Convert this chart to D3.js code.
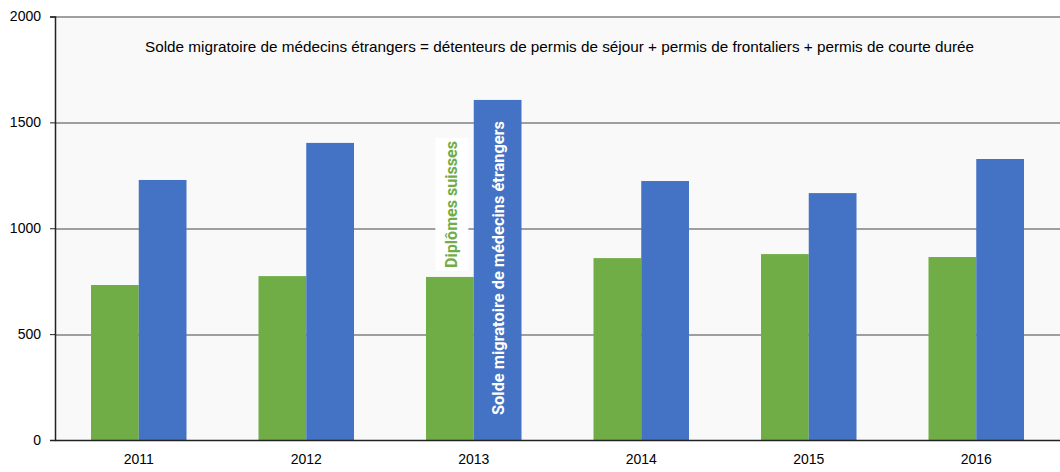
<!DOCTYPE html>
<head>
  <meta charset="utf-8">
  <title>Médecins</title>
  <style>
  body { margin: 0; background: #fff; }
  .axis text { font: 14px "Liberation Sans", Arial, sans-serif; fill: #000; }
  .axis path, .axis line { stroke: #222; }
  .grid line { stroke: #444; stroke-width: 1; }
  </style>
</head>
<svg id="chart"></svg>
<script src="https://cdnjs.cloudflare.com/ajax/libs/d3/7.8.5/d3.min.js"></script>
<script>
"use strict";

var years = ["2011", "2012", "2013", "2014", "2015", "2016"];
var suisses = [732, 774, 770, 859, 878, 864];
var etrangers = [1228, 1403, 1606, 1223, 1166, 1327];
var yTicks = [0, 500, 1000, 1500, 2000];
var seriesNames = ["Diplômes suisses", "Solde migratoire de médecins étrangers"];
var note = "Solde migratoire de médecins étrangers = détenteurs de permis de séjour + permis de frontaliers + permis de courte durée";

var totalWidth = 1060, totalHeight = 472;
var svg = d3.select("#chart").attr("width", totalWidth).attr("height", totalHeight);

var margin = {top: 16.5, right: 0, bottom: 32, left: 55},
  width = totalWidth - margin.left - margin.right,
  height = totalHeight - margin.top - margin.bottom;

var g = svg.append("g").attr("transform", "translate(" + margin.left + "," + margin.top + ")");

var x = d3.scaleBand().domain(years).range([0, width]).paddingInner(0).paddingOuter(0);
var xs = d3.scaleBand().domain([0, 1]).range([36, x.bandwidth() - 36]);
var y = d3.scaleLinear().domain([0, 2000]).range([height, 0]);

// fond
g.append("rect").attr("width", width).attr("height", height).attr("fill", "#f9f9f9");

// grille
g.append("g").attr("class", "grid")
  .selectAll("line").data(yTicks.slice(1)).enter().append("line")
    .attr("x1", 0).attr("x2", width)
    .attr("y1", function(d) { return Math.round(y(d)) + 0.5; })
    .attr("y2", function(d) { return Math.round(y(d)) + 0.5; })
    .attr("stroke-width", function(d) { return d === 2000 ? 1.5 : 1; });

// barres
var colors = ["#70ad47", "#4472c4"];
var rows = years.map(function(yr, i) { return {year: yr, v: [suisses[i], etrangers[i]]}; });

var grp = g.selectAll(".yr").data(rows).enter().append("g")
  .attr("transform", function(d) { return "translate(" + x(d.year) + ",0)"; });

grp.selectAll("rect").data(function(d) { return d.v; }).enter().append("rect")
  .attr("x", function(d, i) { return xs(i); })
  .attr("width", xs.bandwidth())
  .attr("y", function(d) { return y(d); })
  .attr("height", function(d) { return height - y(d); })
  .attr("fill", function(d, i) { return colors[i]; });

// axes
g.append("g").attr("class", "axis")
  .attr("transform", "translate(0," + height + ")")
  .call(d3.axisBottom(x).tickSize(0).tickPadding(14))
  .call(function(a) { a.select(".domain").attr("stroke-width", 1.5); });

g.append("g").attr("class", "axis")
  .call(d3.axisLeft(y).tickValues(yTicks).tickSize(5).tickPadding(9).tickFormat(d3.format("d")))
  .call(function(a) { a.select(".domain").attr("stroke-width", 1.5); });

// étiquettes des séries (2013)
var i13 = years.indexOf("2013");
var gx = x("2013");
var lab1 = g.append("g")
  .attr("transform", "translate(" + (gx + xs(0) + xs.bandwidth() / 2 + 2) + "," + (y(suisses[i13]) - 6) + ") rotate(-90)");
lab1.append("rect").attr("x", 0).attr("y", -16.5).attr("width", 133).attr("height", 33).attr("fill", "#fff");
lab1.append("text").attr("x", 3).attr("dy", "0.35em")
  .attr("fill", "#70ad47")
  .attr("textLength", 127).attr("lengthAdjust", "spacingAndGlyphs")
  .style("font", "bold 16px Roboto, sans-serif")
  .text(seriesNames[0]);

g.append("text")
  .attr("transform", "translate(" + (gx + xs(1) + xs.bandwidth() / 2 + 1) + "," + (height - 25) + ") rotate(-90)")
  .attr("dy", "0.35em")
  .attr("fill", "#fff")
  .attr("textLength", 294).attr("lengthAdjust", "spacingAndGlyphs")
  .style("font", "bold 16px Roboto, sans-serif")
  .text(seriesNames[1]);

// note
g.append("text")
  .attr("x", width / 2 + 2).attr("y", y(1830))
  .attr("text-anchor", "middle")
  .attr("textLength", 829).attr("lengthAdjust", "spacingAndGlyphs")
  .style("font", "15px 'Liberation Sans', Arial, sans-serif")
  .text(note);
</script>
